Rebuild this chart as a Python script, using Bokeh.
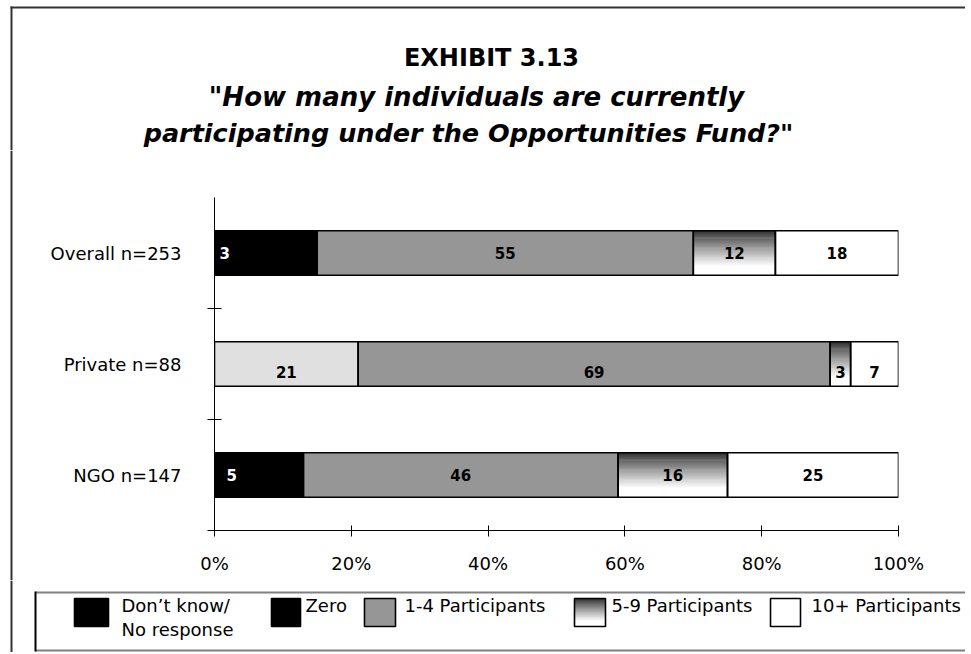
from bokeh.plotting import figure
from bokeh.layouts import column, row
from bokeh.models import ColumnDataSource, FixedTicker, Range1d
from bokeh.core.properties import value
from bokeh.embed import file_html
from bokeh.resources import INLINE

FONT = "DejaVu Sans"

# ---------------- data ----------------
title_lines = ["EXHIBIT 3.13",
               "\"How many individuals are currently",
               "participating under the Opportunities Fund?\""]
groups = ["Overall n=253", "Private n=88", "NGO n=147"]
dont_know = [3, 21, 5]
zero = [12, 0, 8]
part_1_4 = [55, 69, 46]
part_5_9 = [12, 3, 16]
part_10_plus = [18, 7, 25]
series_names = ["Don\u2019t know/\nNo response", "Zero", "1-4 Participants",
                "5-9 Participants", "10+ Participants"]
x_ticks = [0, 20, 40, 60, 80, 100]
x_tick_labels = ["0%", "20%", "40%", "60%", "80%", "100%"]

series = [dont_know, zero, part_1_4, part_5_9, part_10_plus]
n = len(groups)
ypos = [n - 0.5 - i for i in range(n)]
BAR_H = 0.4

# ---------------- styles ----------------
solid_colors = ["#000000", "#000000", "#969696", None, "#ffffff"]
dk_row_colors = ["#000000", "#e0e0e0", "#000000"]   # Private row drawn light grey
label_series = [0, 2, 3, 4]                          # "Zero" values are not labelled
row_label_offset = [0, 8, 0]
N_STRIPES = 40
FRAME_COL = "#333333"


def grad_color(t):
    g = int(round(45 + 210 * min(1.0, (t / 0.8) ** 0.9)))
    return "#%02x%02x%02x" % (g, g, g)


# layout in page pixels
W = 965
T_H = 150          # title strip height
M_H = 430          # main strip height
L_H = 72           # legend strip height
S_W = 30           # left strip width (outer frame line)
FRAME_L, FRAME_R, FRAME_T, FRAME_B = 214, 898, 197, 530


def pixel_fig(w, h, y0, x0=0):
    f = figure(width=w, height=h, x_range=Range1d(x0, x0 + w), y_range=Range1d(y0 + h, y0),
               output_backend="svg", toolbar_location=None,
               x_axis_location=None, y_axis_location=None, min_border=0,
               background_fill_color="white", border_fill_color="white")
    f.outline_line_color = None
    f.grid.visible = False
    f.frame_align = False
    return f


def rect(f, x0, y0, x1, y1, fill, line=None, lw=1.0):
    f.quad(left=[x0], right=[x1], top=[y0], bottom=[y1], fill_color=fill,
           fill_alpha=1.0 if fill else 0.0,
           line_color=line, line_width=lw)


def txt(f, x, y, t, size, style="normal", align="left", baseline="alphabetic"):
    f.text(x=[x], y=[y], text=[t], text_font=value(FONT), text_font_size=size,
           text_font_style=style, text_align=align, text_baseline=baseline,
           text_color="#000000")


# ---------------- title strip ----------------
pt = pixel_fig(W, T_H, 0)
rect(pt, 10, 6, W, 8, FRAME_COL)
rect(pt, 10, 6, 12, T_H, FRAME_COL)
txt(pt, 491, 57, title_lines[0], "24px", "bold", "center", "middle")
txt(pt, 476, 96, title_lines[1], "26px", "bold italic", "center", "middle")
txt(pt, 468, 132, title_lines[2], "25.5px", "bold italic", "center", "middle")

# ---------------- left strip ----------------
ps = pixel_fig(S_W, M_H, T_H)
rect(ps, 10, T_H, 12, T_H + M_H, FRAME_COL)

# ---------------- main chart ----------------
MW = W - S_W
p = figure(width=MW, height=M_H, x_range=Range1d(0, 100), y_range=Range1d(0, n),
           output_backend="svg", toolbar_location=None,
           min_border_left=FRAME_L - S_W, min_border_right=W - FRAME_R,
           min_border_top=FRAME_T - T_H, min_border_bottom=T_H + M_H - FRAME_B,
           background_fill_color="white", border_fill_color="white")
p.outline_line_color = None
p.grid.visible = False
p.frame_align = False

cum = [0.0] * n
solid = dict(y=[], left=[], right=[], color=[])
stripes = dict(y=[], left=[], right=[], color=[])
outline = dict(y=[], left=[], right=[])
labels = dict(x=[], y=[], text=[], color=[], off=[])
sh = BAR_H / N_STRIPES
for s_idx, vals in enumerate(series):
    for i in range(n):
        l = cum[i]
        r = l + vals[i]
        cum[i] = r
        if vals[i] <= 0:
            continue
        if s_idx == 3:
            for k in range(N_STRIPES):
                stripes["y"].append(ypos[i] + BAR_H / 2 - (k + 0.5) * sh)
                stripes["left"].append(l)
                stripes["right"].append(r)
                stripes["color"].append(grad_color((k + 0.5) / N_STRIPES))
        else:
            col = dk_row_colors[i] if s_idx == 0 else solid_colors[s_idx]
            solid["y"].append(ypos[i])
            solid["left"].append(l)
            solid["right"].append(r)
            solid["color"].append(col)
        outline["y"].append(ypos[i])
        outline["left"].append(l)
        outline["right"].append(r)
        if s_idx in label_series:
            labels["x"].append((l + r) / 2)
            labels["y"].append(ypos[i])
            labels["text"].append(str(vals[i]))
            dark = (s_idx == 0 and dk_row_colors[i] == "#000000")
            labels["color"].append("#ffffff" if dark else "#000000")
            labels["off"].append(row_label_offset[i])

p.hbar(y="y", left="left", right="right", height=BAR_H, fill_color="color",
       line_color=None, source=ColumnDataSource(solid))
p.hbar(y="y", left="left", right="right", height=sh * 1.5, fill_color="color",
       line_color=None, source=ColumnDataSource(stripes))
p.hbar(y="y", left="left", right="right", height=BAR_H, fill_alpha=0,
       line_color="#000000", line_width=1.6, source=ColumnDataSource(outline))
p.text(x="x", y="y", text="text", text_color="color", y_offset="off",
       text_align="center", text_baseline="middle",
       text_font=value(FONT), text_font_style="bold", text_font_size="15px",
       source=ColumnDataSource(labels))

xa = p.xaxis[0]
xa.ticker = FixedTicker(ticks=x_ticks, minor_ticks=[])
xa.major_label_overrides = {t: lab for t, lab in zip(x_ticks, x_tick_labels)}
xa.axis_line_color = "#000000"
xa.major_tick_line_color = "#000000"
xa.major_tick_in = 5
xa.major_tick_out = 6
xa.major_label_standoff = 16
xa.major_label_text_font = FONT
xa.major_label_text_font_size = "18px"
xa.major_label_text_color = "#000000"

ya = p.yaxis[0]
ya.ticker = FixedTicker(ticks=ypos, minor_ticks=[float(k) for k in range(n)])
ya.major_label_overrides = {yv: g for yv, g in zip(ypos, groups)}
ya.axis_line_color = "#000000"
ya.major_tick_in = 0
ya.major_tick_out = 0
ya.minor_tick_in = 7
ya.minor_tick_out = 7
ya.minor_tick_line_color = "#000000"
ya.major_label_standoff = 26
ya.major_label_text_font = FONT
ya.major_label_text_font_size = "18px"
ya.major_label_text_color = "#000000"

# ---------------- legend strip ----------------
LY0 = T_H + M_H
pl = pixel_fig(W, L_H, LY0)
rect(pl, 10, LY0, 12, LY0 + L_H, FRAME_COL)
LT, LB = 592, 650
rect(pl, 35, LT - 1, W, LT + 1, "#808080")
rect(pl, 35, LB - 1, W, LB + 1, "#808080")
rect(pl, 34, LT - 1, 36, LB + 1, "#000000")

SW_T, SW_B = 598, 626
swatches = [(74, 108), (271, 300), (364, 395), (574, 605), (770, 800)]
text_x = [121, 305, 404, 611, 811]
for idx, (sx0, sx1) in enumerate(swatches):
    if idx == 3:
        ns = 28
        hh = (SW_B - SW_T) / ns
        pl.quad(left=[sx0] * ns, right=[sx1] * ns,
                top=[SW_T + k * hh for k in range(ns)],
                bottom=[SW_T + (k + 1.5) * hh for k in range(ns)],
                fill_color=[grad_color((k + 0.5) / ns) for k in range(ns)],
                line_color=None)
        rect(pl, sx0, SW_T, sx1, SW_B, None, "#000000", 1.6)
    else:
        rect(pl, sx0, SW_T, sx1, SW_B, solid_colors[idx], "#000000", 1.6)
    for li, t in enumerate(series_names[idx].split("\n")):
        txt(pl, text_x[idx], 605 + 24 * li, t, "18px")

layout = column(pt, row(ps, p), pl)
open("out.html", "w").write(file_html(layout, INLINE))
